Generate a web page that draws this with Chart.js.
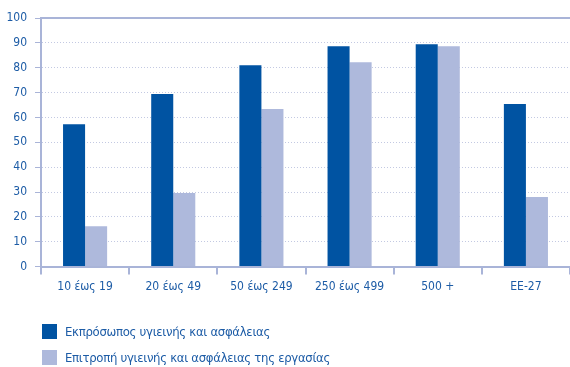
<!DOCTYPE html>
<html>
<head>
<meta charset="utf-8">
<script src="https://cdn.jsdelivr.net/npm/chart.js@4/dist/chart.umd.min.js"></script>
<style>
  html, body { margin: 0; padding: 0; background: #fff; }
  #wrap { position: relative; width: 570px; height: 367px; }
  canvas { display: block; }
  #legend { position: absolute; left: 42px; top: 318px; font-family: "DejaVu Sans Condensed", sans-serif; font-size: 13px; letter-spacing: -0.3px; color: #1d5ca6; }
  .item { display: flex; align-items: center; height: 26px; }
  .box { width: 15px; height: 15px; margin-right: 8px; }
</style>
</head>
<body>
<div id="wrap">
  <canvas id="chart" width="570" height="367"></canvas>
  <div id="legend"></div>
</div>
<script>
// Δεδομένα
const categories = ['10 έως 19', '20 έως 49', '50 έως 249', '250 έως 499', '500 +', 'EE-27'];
const seriesNames = ['Εκπρόσωπος υγιεινής και ασφάλειας', 'Επιτροπή υγιεινής και ασφάλειας της εργασίας'];
const representative = [57.3, 69.4, 81, 88.6, 89.4, 65.4];
const committee = [16.2, 29.6, 63.4, 82.2, 88.6, 28];
const yTicks = [0, 10, 20, 30, 40, 50, 60, 70, 80, 90, 100];

const darkBlue = '#0053a2';
const lightBlue = '#aeb9dc';
const axisColor = '#a9b4d8';
const textColor = '#1d5ca6';
const fontFamily = '"DejaVu Sans Condensed", sans-serif';

const ctx = document.getElementById('chart').getContext('2d');
new Chart(ctx, {
  type: 'bar',
  data: {
    labels: categories,
    datasets: [
      { label: seriesNames[0], data: representative, backgroundColor: darkBlue },
      { label: seriesNames[1], data: committee, backgroundColor: lightBlue }
    ]
  },
  options: {
    responsive: false,
    animation: false,
    datasets: { bar: { categoryPercentage: 0.5, barPercentage: 1 } },
    layout: { padding: { top: 10, right: 0, left: 0, bottom: 68 } },
    plugins: { legend: { display: false }, tooltip: { enabled: false } },
    scales: {
      x: {
        grid: { offset: true, drawOnChartArea: false, drawTicks: true, tickLength: 8, color: axisColor, lineWidth: 2 },
        border: { color: axisColor, width: 2 },
        ticks: { color: textColor, font: { family: fontFamily, size: 12 }, padding: 5 }
      },
      xTop: {
        position: 'top',
        grid: { display: false },
        ticks: { display: false },
        border: { color: axisColor, width: 2 }
      },
      y: {
        min: 0,
        max: 100,
        afterBuildTicks: scale => { scale.ticks = yTicks.map(v => ({ value: v })); },
        afterFit: scale => { scale.width = 41; },
        grid: { color: '#c3c9e2', lineWidth: 1, tickLength: 6, tickColor: axisColor, drawTicks: true },
        border: { color: axisColor, width: 2, dash: [1, 2] },
        ticks: { color: textColor, font: { family: fontFamily, size: 12 }, padding: 8 }
      }
    }
  }
});

// Λεζάντα
const legend = document.getElementById('legend');
[darkBlue, lightBlue].forEach((c, i) => {
  const item = document.createElement('div');
  item.className = 'item';
  item.innerHTML = `<div class="box" style="background:${c}"></div><span>${seriesNames[i]}</span>`;
  legend.appendChild(item);
});
</script>
</body>
</html>
